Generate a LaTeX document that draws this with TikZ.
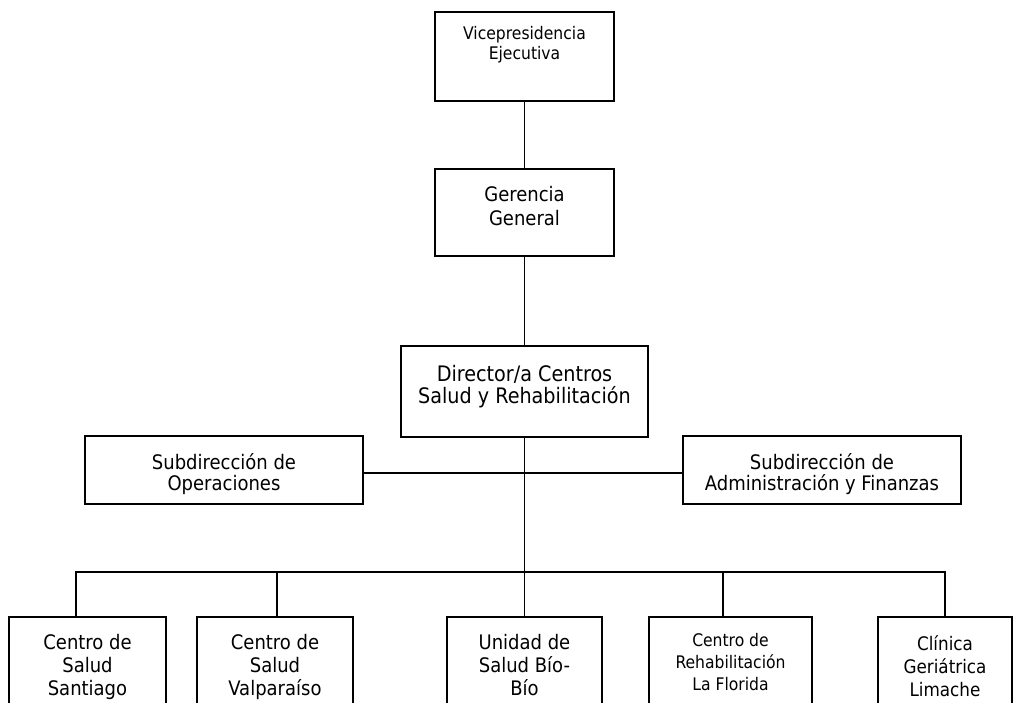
\documentclass[tikz,border=0pt]{standalone}
\usepackage{fontspec}
\setmainfont{DejaVu Sans Condensed}
\usetikzlibrary{calc}

% width, height, first baseline, font, text
\newcommand{\unittext}[5]{\parbox[c][#2][t]{#1}{\centering#4\rule{0pt}{#3}#5}}

\begin{document}
\begin{tikzpicture}[x=0.75pt,y=-0.75pt,
  unit/.style={draw,line width=1.3pt,inner sep=0pt},
  link/.style={line width=1.3pt}]

\useasboundingbox (0,0) rectangle (1026,703);
\clip (0,0) rectangle (1026,703);

% top of the chart
\node[unit] (vice) at (524.5,56.5)
  {\unittext{134.25pt}{66.75pt}{20.5pt}{\fontsize{13}{15}\selectfont}{Vicepresidencia\\Ejecutiva}};
\node[unit] (ger) at (524.5,212.5)
  {\unittext{134.25pt}{65.25pt}{24.5pt}{\fontsize{15}{18.2}\selectfont}{Gerencia\\General}};
\node[unit] (dir) at (524.5,391.5)
  {\unittext{185.25pt}{68.25pt}{26.8pt}{\fontsize{16}{16.5}\selectfont}{Director/a Centros\\Salud y Rehabilitación}};

% staff units
\node[unit] (subop) at (224,470)
  {\unittext{208.5pt}{51pt}{24.75pt}{\fontsize{15}{16.3}\selectfont}{Subdirección de\\Operaciones}};
\node[unit] (subadm) at (822,470)
  {\unittext{208.5pt}{51pt}{24.75pt}{\fontsize{15}{16.3}\selectfont}{Subdirección de\\Administración y Finanzas}};

% centres
\node[unit] (sant) at (87.5,667)
  {\unittext{117.75pt}{75pt}{24pt}{\fontsize{15}{17.5}\selectfont}{Centro de\\Salud\\Santiago}};
\node[unit] (valp) at (275,667)
  {\unittext{117pt}{75pt}{24pt}{\fontsize{15}{17.5}\selectfont}{Centro de\\Salud\\Valparaíso}};
\node[unit] (uni) at (524.5,667)
  {\unittext{116.25pt}{75pt}{24pt}{\fontsize{15}{17.5}\selectfont}{Unidad de\\Salud Bío-\\Bío}};
\node[unit] (rehab) at (730.5,667)
  {\unittext{122.25pt}{75pt}{22.3pt}{\fontsize{13}{16.25}\selectfont}{Centro de\\Rehabilitación\\La Florida}};
\node[unit] (cli) at (945,667)
  {\unittext{100.5pt}{75pt}{24.75pt}{\fontsize{14}{17.5}\selectfont}{Clínica\\Geriátrica\\Limache}};

\coordinate (bus) at (0,572);

\draw[link] (vice.south) -- (ger.north);
\draw[link] (ger.south) -- (dir.north);
\draw[link] (dir.south) -- (dir.south |- uni.north);
\draw[link] ([yshift=-2.25pt]subop.east) -- ([yshift=-2.25pt]subadm.west);

\draw[link] ([xshift=-8.6pt]sant.north) |- (bus -| cli.north) -- (cli.north);
\foreach \n/\s in {valp/1.5pt,rehab/-5.6pt}
  \draw[link] ([xshift=\s]\n.north) -- ++(0,-45);

\end{tikzpicture}
\end{document}
